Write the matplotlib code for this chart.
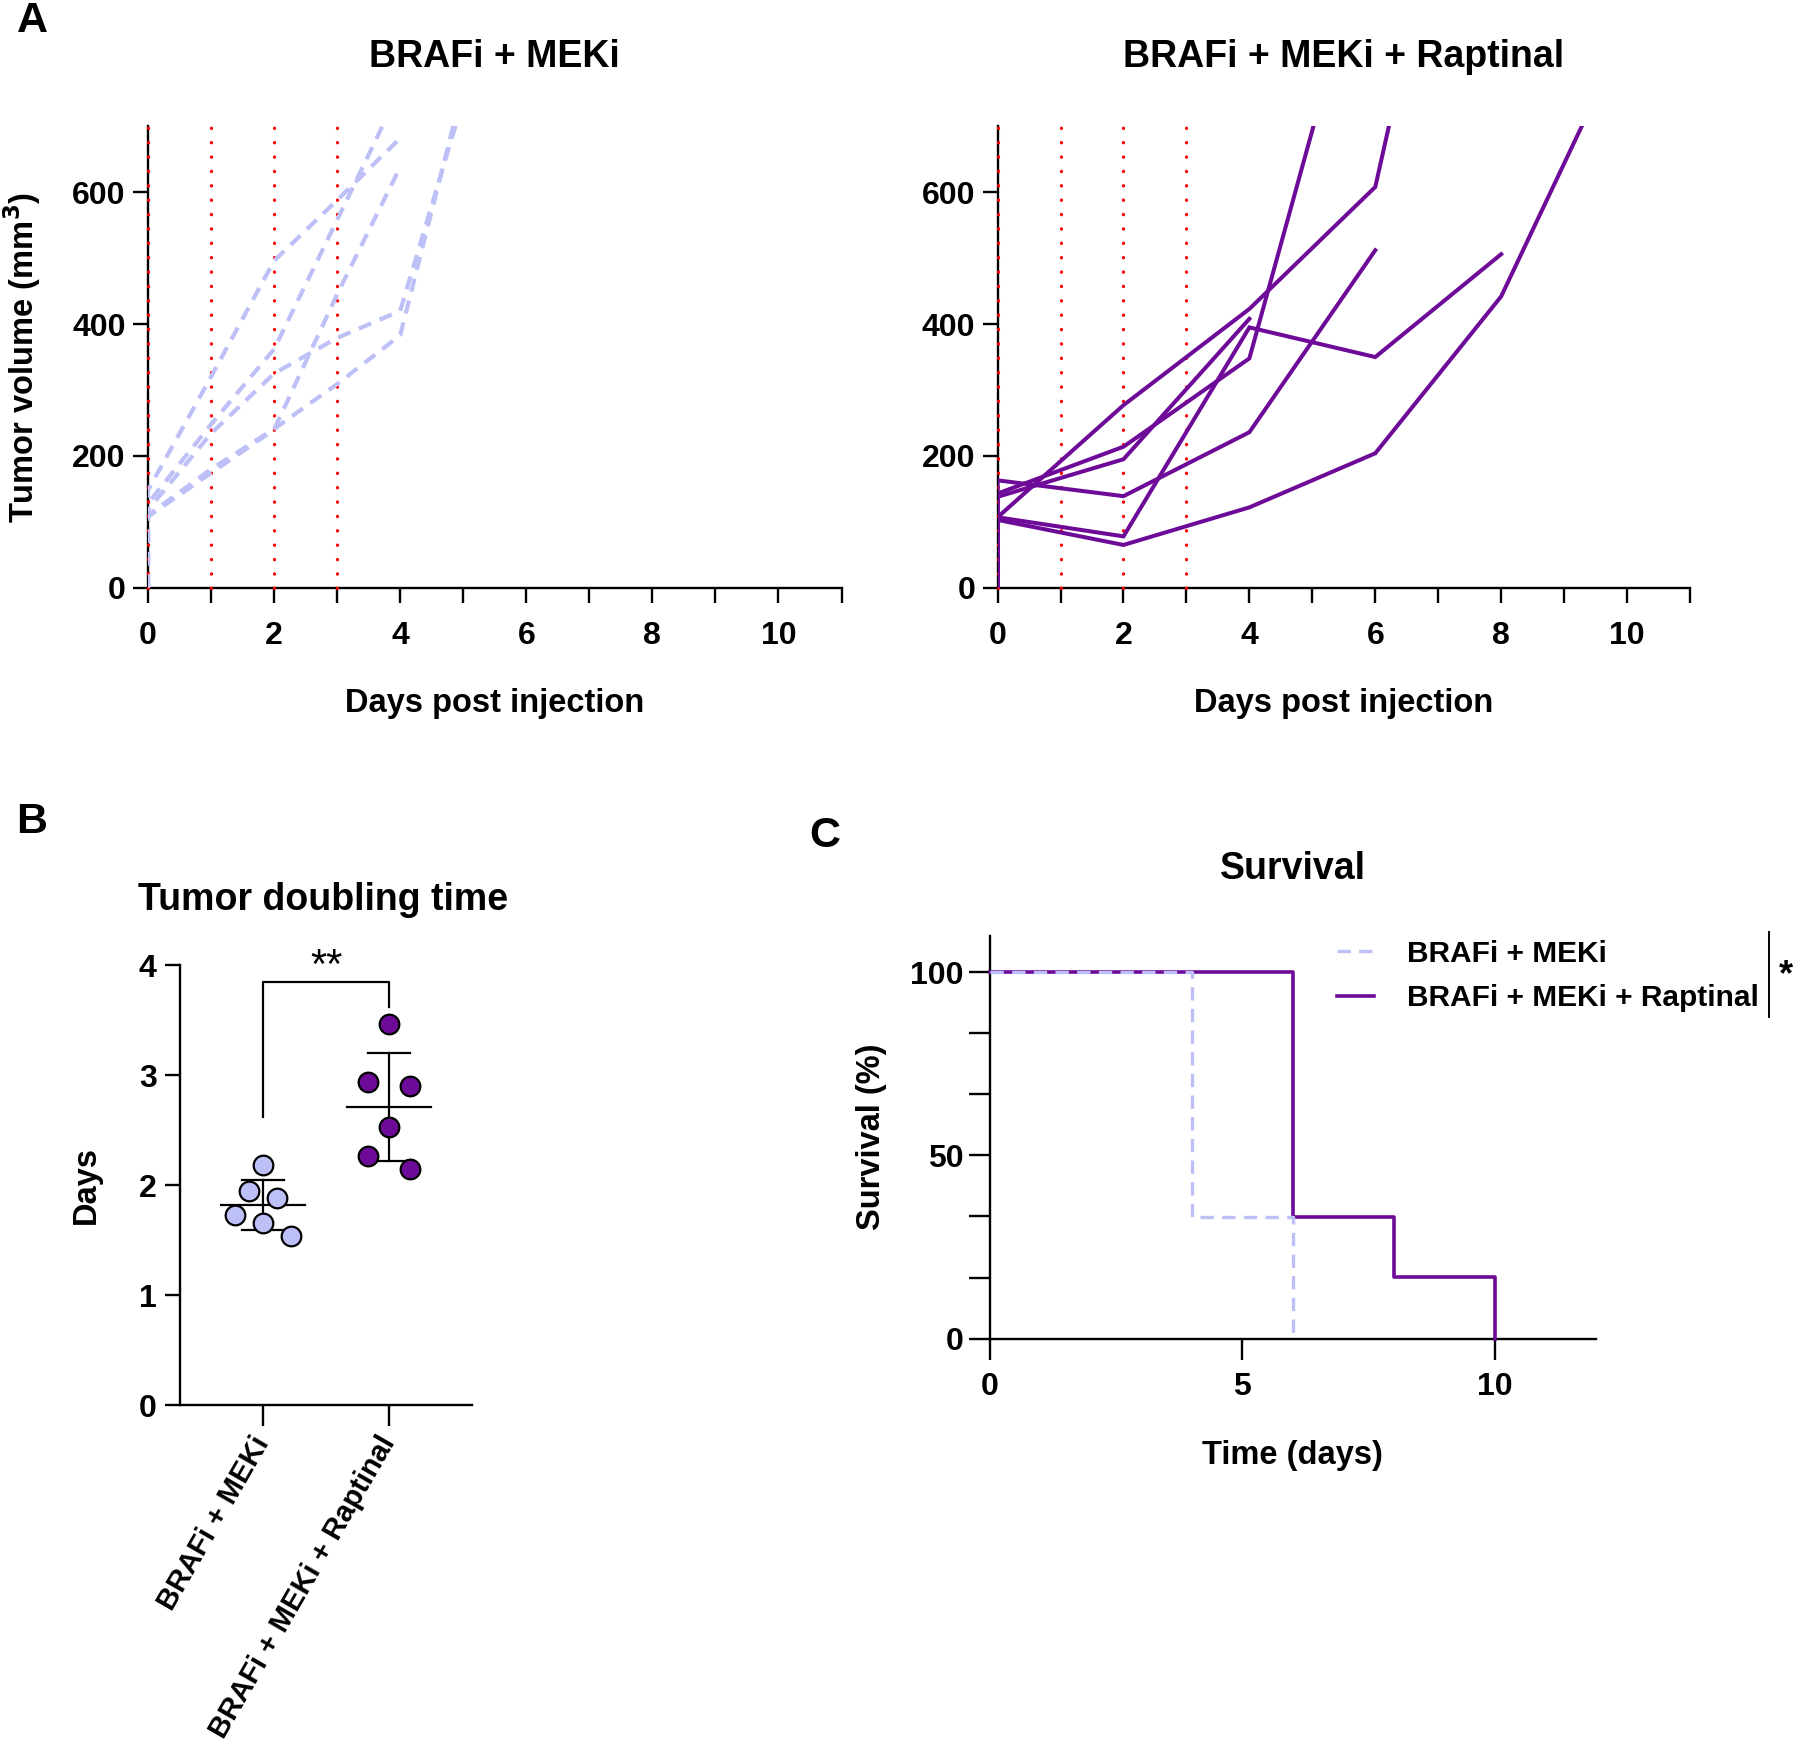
import numpy as np
import matplotlib
matplotlib.use("Agg")
import matplotlib.pyplot as plt
from matplotlib.ticker import MultipleLocator, FixedLocator

plt.rcParams['font.family'] = ['Liberation Sans', 'DejaVu Sans']
plt.rcParams['font.weight'] = 'bold'
plt.rcParams['axes.labelweight'] = 'bold'

LIGHT = '#bdbff7'
DARK = '#6e0a98'

# ---- panel A: tumour volume per mouse (mm3), each line starts at 0 on day 0
dose_days = [0, 1, 2, 3]

ctrl_days = [
    [0, 0, 1, 2, 3, 4],
    [0, 0, 1, 2, 3, 4],
    [0, 0, 1, 2, 3, 4, 5],
    [0, 0, 1, 2, 3, 4, 5],
    [0, 0, 1, 2, 3, 4],
]
ctrl_vol = [
    [0, 148, 320, 496, 588, 682],
    [0, 128, 248, 362, 558, 756],
    [0, 118, 234, 325, 379, 420, 740],
    [0, 110, 180, 241, 309, 383, 760],
    [0, 108, 174, 240, 445, 638],
]

rap_days = [
    [0, 0, 2, 4, 6, 8],
    [0, 0, 2, 4, 6],
    [0, 0, 2, 4, 6, 8],
    [0, 0, 2, 4, 6],
    [0, 0, 2, 4, 6, 8, 10],
    [0, 0, 2, 4],
]
rap_vol = [
    [0, 107, 277, 423, 608, 1460],
    [0, 143, 214, 348, 1040],
    [0, 107, 78, 395, 350, 506],
    [0, 163, 139, 236, 512],
    [0, 103, 65, 122, 204, 442, 845],
    [0, 138, 195, 408],
]

# ---- panel B: tumour doubling time (days)
groups = ['BRAFi + MEKi', 'BRAFi + MEKi + Raptinal']
dt_ctrl = [2.18, 1.95, 1.88, 1.73, 1.66, 1.54]
dt_rap = [3.47, 2.94, 2.90, 2.53, 2.27, 2.15]
jit_ctrl = [0, -0.111, 0.111, -0.222, 0, 0.222]
jit_rap = [0, -0.164, 0.164, 0, -0.164, 0.164]

# ---- panel C: Kaplan-Meier survival (%)
surv_t_ctrl = [0, 4, 6]
surv_ctrl = [100, 33.3, 0]
surv_t_rap = [0, 6, 8, 10]
surv_rap = [100, 33.3, 16.7, 0]

W, H = 1800, 1760
TICK_FS = 23
LABEL_FS = 23.5
TITLE_FS = 27
fig = plt.figure(figsize=(18, 17.6), dpi=100)


def axes_px(x0, x1, ytop, ybot):
    return fig.add_axes([x0 / W, 1 - ybot / H, (x1 - x0) / W, (ybot - ytop) / H])


def style(ax, lw=1.7):
    for s in ['top', 'right']:
        ax.spines[s].set_visible(False)
    for s in ['left', 'bottom']:
        ax.spines[s].set_linewidth(lw)
    ax.tick_params(which='both', length=11, width=lw, labelsize=TICK_FS)


def volume_panel(ax, days, vols, color, dashed, title, ylabel=None):
    style(ax)
    for d in dose_days:
        ax.plot([d, d], [0, 700], color='red', lw=2.3, linestyle=(0, (0.1, 4.4)),
                dash_capstyle='round', zorder=3, clip_on=False)
    for dd, vv in zip(days, vols):
        if dashed:
            ax.plot(dd, vv, color=color, lw=3.0, linestyle=(0, (3.2, 2.2)), zorder=4)
        else:
            ax.plot(dd, vv, color=color, lw=2.9, zorder=4, solid_joinstyle='miter')
    ax.set_xlim(0, 11)
    ax.set_ylim(0, 700)
    ax.xaxis.set_major_locator(MultipleLocator(2))
    ax.xaxis.set_minor_locator(MultipleLocator(1))
    ax.yaxis.set_major_locator(FixedLocator([0, 200, 400, 600]))
    ax.tick_params(axis='x', which='both', pad=13)
    ax.tick_params(axis='y', pad=5)
    ax.text(0.5, 1.15, title, transform=ax.transAxes, ha='center', va='center',
            fontsize=TITLE_FS, weight='bold')
    ax.set_xlabel('Days post injection', fontsize=LABEL_FS)
    ax.xaxis.set_label_coords(0.5, -0.218)
    if ylabel:
        ax.set_ylabel(ylabel, fontsize=LABEL_FS)
        ax.yaxis.set_label_coords(-0.152, 0.5)


axA1 = axes_px(148, 841.5, 126.3, 587.8)
volume_panel(axA1, ctrl_days, ctrl_vol, LIGHT, True, 'BRAFi + MEKi',
             'Tumor volume (mm$^\\mathbf{3}$)')
axA2 = axes_px(997.6, 1690, 126.3, 587.8)
volume_panel(axA2, rap_days, rap_vol, DARK, False, 'BRAFi + MEKi + Raptinal')

# ---- panel B
axB = axes_px(180.2, 471.8, 965.5, 1405)
style(axB)
for i, (vals, jit, col) in enumerate([(dt_ctrl, jit_ctrl, LIGHT), (dt_rap, jit_rap, DARK)]):
    vals = np.array(vals)
    xs = i + np.array(jit)
    m, sd = vals.mean(), vals.std(ddof=1)
    axB.plot([i, i], [m - sd, m + sd], color='black', lw=1.6, zorder=2)
    axB.plot([i - 0.165, i + 0.165], [m - sd, m - sd], color='black', lw=1.6, zorder=2)
    axB.plot([i - 0.165, i + 0.165], [m + sd, m + sd], color='black', lw=1.6, zorder=2)
    axB.plot([i - 0.33, i + 0.33], [m, m], color='black', lw=1.6, zorder=2)
    axB.scatter(xs, vals, s=200, color=col, edgecolors='black', linewidths=1.6, zorder=3)
# significance bracket
axB.plot([0, 0, 1, 1], [2.62, 3.85, 3.85, 3.62], color='black', lw=1.6, clip_on=False)
axB.text(0.5, 3.99, '**', ha='center', va='center', fontsize=30, weight='normal')
axB.set_xlim(-0.655, 1.655)
axB.set_ylim(0, 4)
axB.yaxis.set_major_locator(MultipleLocator(1))
axB.set_xticks([0, 1])
axB.set_xticklabels(groups, rotation=60, ha='right', va='center', rotation_mode='anchor',
                    fontsize=21)
axB.tick_params(axis='x', length=15, pad=9)
axB.tick_params(axis='y', pad=6)
axB.set_ylabel('Days', fontsize=LABEL_FS)
axB.yaxis.set_label_coords(-0.27, 0.5)
axB.text(-0.145, 1.149, 'Tumor doubling time', transform=axB.transAxes, ha='left',
         va='center', fontsize=TITLE_FS, weight='bold')

# ---- panel C
axC = axes_px(989.6, 1595.7, 935.6, 1338.6)
style(axC)
axC.step(surv_t_rap, surv_rap, where='post', color=DARK, lw=2.6, zorder=3,
         label='BRAFi + MEKi + Raptinal', clip_on=False)
axC.step(surv_t_ctrl, surv_ctrl, where='post', color=LIGHT, lw=2.4, zorder=4,
         linestyle=(0, (4, 2.5)), label='BRAFi + MEKi', clip_on=False)
axC.set_xlim(0, 12)
axC.set_ylim(0, 110)
axC.xaxis.set_major_locator(FixedLocator([0, 5, 10]))
axC.yaxis.set_major_locator(FixedLocator([0, 50, 100]))
axC.yaxis.set_minor_locator(FixedLocator([100 / 6, 200 / 6, 400 / 6, 500 / 6]))
axC.tick_params(which='both', length=15)
axC.tick_params(axis='x', pad=9)
axC.tick_params(axis='y', pad=4)
axC.set_xlabel('Time (days)', fontsize=LABEL_FS)
axC.xaxis.set_label_coords(0.5, -0.252)
axC.set_ylabel('Survival (%)', fontsize=LABEL_FS)
axC.yaxis.set_label_coords(-0.17, 0.5)
axC.text(0.5, 1.165, 'Survival', transform=axC.transAxes, ha='center', va='center',
         fontsize=TITLE_FS, weight='bold')
h, l = axC.get_legend_handles_labels()
axC.legend(h[::-1], l[::-1], loc='upper left', bbox_to_anchor=(0.573, 0.99),
           frameon=False, fontsize=21.5, handlelength=1.25, handletextpad=1.1,
           borderpad=0, borderaxespad=0, labelspacing=0.55)
axC.plot([1.286, 1.286], [0.798, 1.009], transform=axC.transAxes, color='black',
         lw=1.4, clip_on=False)
axC.text(1.314, 0.90, '*', transform=axC.transAxes, ha='center', va='center',
         fontsize=26, weight='bold')

# panel letters
for letter, x, y in [('A', 32, 21), ('B', 32, 822), ('C', 825, 836)]:
    fig.text(x / W, 1 - y / H, letter, ha='center', va='center', fontsize=31, weight='bold')

fig.savefig('out.png', dpi=100)
